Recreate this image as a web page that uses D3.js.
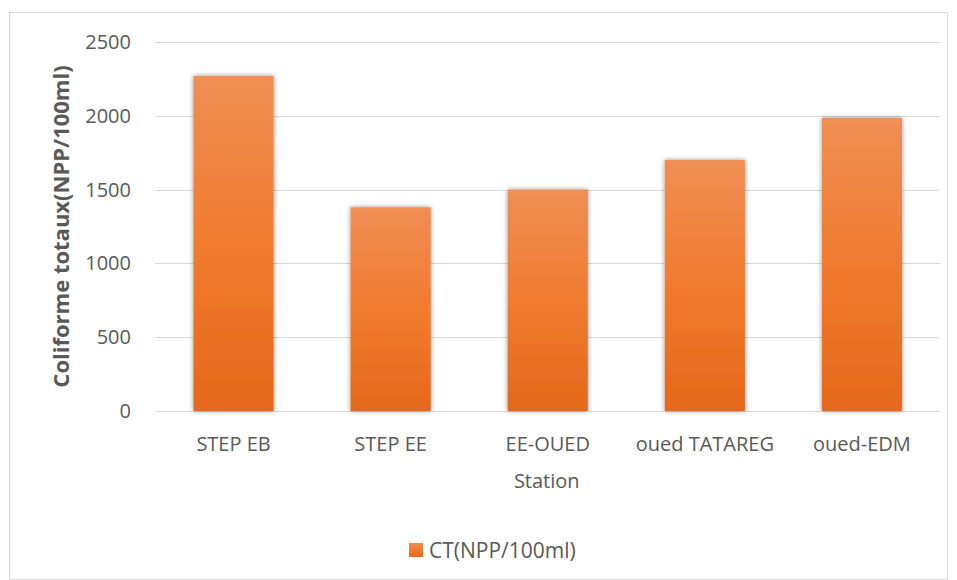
<!DOCTYPE html>
<html>
<head>
<meta charset="utf-8">
<script src="https://cdn.jsdelivr.net/npm/d3@7"></script>
<style>
  body { margin: 0; background: #fff; }
  svg { font-family: "Open Sans", "Noto Sans", sans-serif; }
</style>
</head>
<body>
<svg id="chart" width="957" height="580"></svg>
<script>
// Total coliforms per sampling station
const stations = ["STEP EB", "STEP EE", "EE-OUED", "oued TATAREG", "oued-EDM"];
const ctValues = [2270, 1380, 1500, 1700, 1985];
const yTicks = [0, 500, 1000, 1500, 2000, 2500];
const seriesName = "CT(NPP/100ml)";

const svg = d3.select("#chart");
const W = 957, H = 580;
const plot = { left: 155, right: 940.5, top: 42, bottom: 411 };
const textColor = "#595959";

// chart frame
svg.append("rect")
  .attr("x", 9.5).attr("y", 12.5)
  .attr("width", W - 19).attr("height", H - 13)
  .attr("fill", "#fff").attr("stroke", "#d9d9d9");

const defs = svg.append("defs");
const grad = defs.append("linearGradient")
  .attr("id", "barGrad").attr("x1", 0).attr("y1", 0).attr("x2", 0).attr("y2", 1);
grad.append("stop").attr("offset", "0%").attr("stop-color", "#f08e55");
grad.append("stop").attr("offset", "50%").attr("stop-color", "#f07b2e");
grad.append("stop").attr("offset", "100%").attr("stop-color", "#e5681b");

const shadow = defs.append("filter").attr("id", "barShadow")
  .attr("x", "-20%").attr("y", "-10%").attr("width", "140%").attr("height", "120%");
shadow.append("feGaussianBlur").attr("in", "SourceAlpha").attr("stdDeviation", 2.5).attr("result", "b");
shadow.append("feComponentTransfer").attr("in", "b").attr("result", "s")
  .append("feFuncA").attr("type", "linear").attr("slope", 0.45);
const merge = shadow.append("feMerge");
merge.append("feMergeNode").attr("in", "s");
merge.append("feMergeNode").attr("in", "SourceGraphic");

const x = d3.scaleBand()
  .domain(stations)
  .range([plot.left, plot.right])
  .paddingInner(0.49).paddingOuter(0.245);

const y = d3.scaleLinear()
  .domain([0, 2500])
  .range([plot.bottom, plot.top]);

// horizontal gridlines
svg.append("g")
  .selectAll("line")
  .data(yTicks)
  .join("line")
  .attr("x1", plot.left).attr("x2", plot.right)
  .attr("y1", d => Math.round(y(d)) + 0.5).attr("y2", d => Math.round(y(d)) + 0.5)
  .attr("stroke", "#d9d9d9").attr("stroke-width", 1);

// y axis labels
const yAxis = d3.axisLeft(y).tickValues(yTicks).tickFormat(d3.format("d")).tickSize(0).tickPadding(0);
svg.append("g")
  .attr("transform", `translate(${plot.left - 24},0)`)
  .call(yAxis)
  .call(g => g.select(".domain").remove())
  .call(g => g.selectAll("text")
    .attr("fill", textColor).attr("font-size", 20)
    .attr("font-family", "'Open Sans', sans-serif"));

// bars
svg.append("g")
  .selectAll("rect")
  .data(stations.map((s, i) => ({ s, v: ctValues[i] })))
  .join("rect")
  .attr("x", d => x(d.s))
  .attr("width", x.bandwidth())
  .attr("y", d => y(d.v))
  .attr("height", d => y(0) - y(d.v))
  .attr("fill", "url(#barGrad)")
  .attr("filter", "url(#barShadow)");

// x axis labels
const xAxis = d3.axisBottom(x).tickSize(0).tickPadding(0);
svg.append("g")
  .attr("transform", `translate(0,${y(0)})`)
  .call(xAxis)
  .call(g => g.select(".domain").remove())
  .call(g => g.selectAll("text")
    .attr("dy", null).attr("y", 40)
    .attr("fill", textColor).attr("font-size", 20)
    .attr("font-family", "'Open Sans', sans-serif"));

// axis titles
svg.append("text")
  .attr("x", (plot.left + plot.right) / 2 - 1)
  .attr("y", 488)
  .attr("text-anchor", "middle")
  .attr("fill", textColor).attr("font-size", 20)
  .text("Station");

svg.append("text")
  .attr("transform", `translate(69,${(plot.top + plot.bottom) / 2}) rotate(-90)`)
  .attr("text-anchor", "middle")
  .attr("fill", textColor).attr("font-size", 22).attr("font-weight", "bold")
  .text("Coliforme totaux(NPP/100ml)");

// legend
const legend = svg.append("g").attr("transform", "translate(409,543)");
legend.append("rect").attr("width", 14).attr("height", 14).attr("fill", "url(#barGrad)");
legend.append("text")
  .attr("x", 20).attr("y", 15)
  .attr("fill", textColor).attr("font-size", 21)
  .text(seriesName);
</script>
</body>
</html>
